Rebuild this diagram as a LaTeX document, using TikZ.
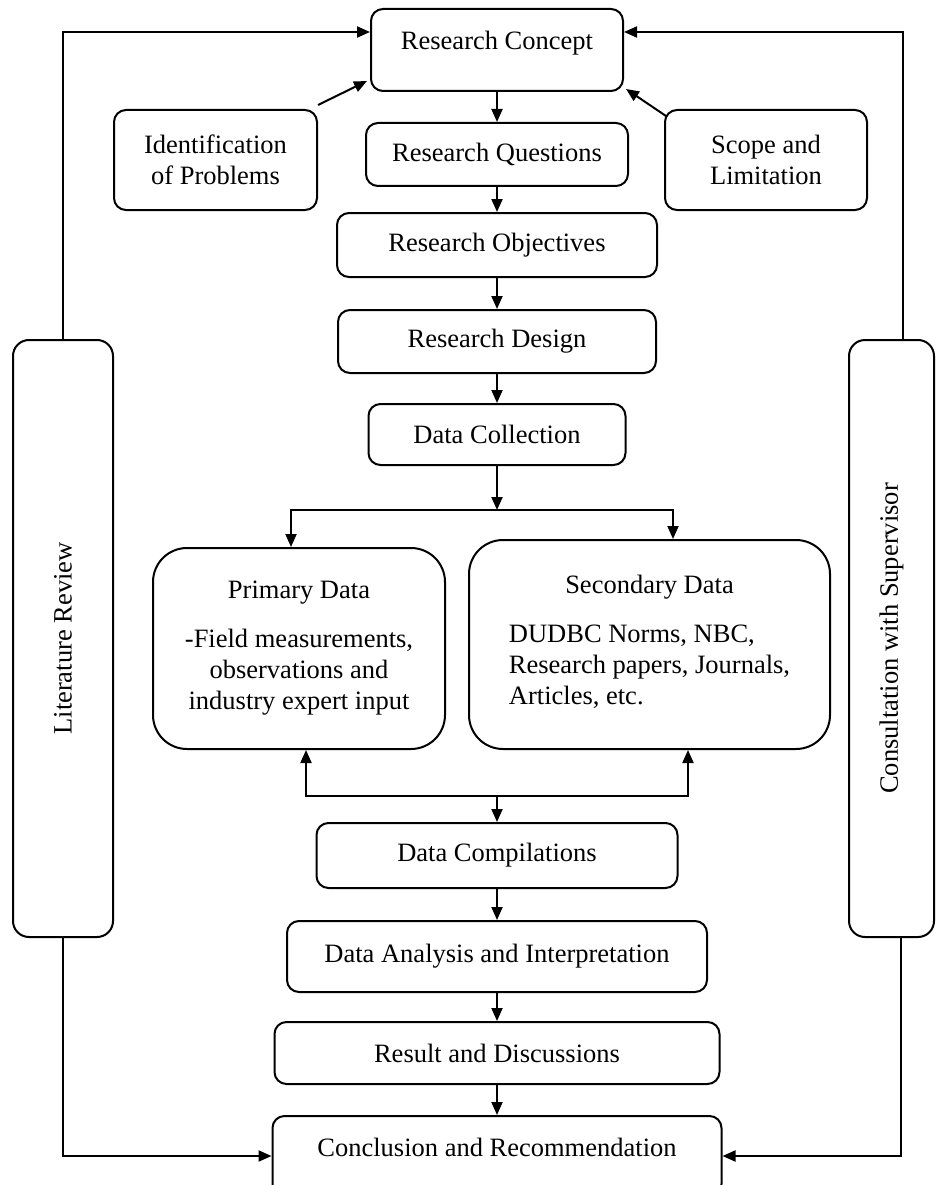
\documentclass[tikz,border=0pt]{standalone}
\usepackage{fontspec}
\setmainfont{Liberation Serif}
\usetikzlibrary{arrows.meta,positioning}
\tikzset{
  % Base styles
  chart base/.style={
    >={Triangle[length=13pt,width=11pt]},
    every node/.style={font=\fontsize{26.5}{31}\selectfont},
    node distance=30pt,
    x=1pt, y=-1pt,
  },
  % Flow boxes
  stage node/.style={rectangle, draw, line width=2pt, rounded corners=12pt, inner sep=4pt, fill=white},
  side node/.style={stage node, minimum width=203pt, minimum height=100pt, align=center},
  data node/.style={stage node, rounded corners=34pt, align=center},
  frame node/.style={stage node, rounded corners=16pt, minimum width=100pt, minimum height=597pt},
  % Connectors
  flow line/.style={line width=2pt},
}

\begin{document}
\begin{tikzpicture}[chart base]
\useasboundingbox (0,0) rectangle (936,1185);

% Main column (top part)
\node[stage node, minimum width=252pt, minimum height=82pt, text height=18pt, text depth=18pt] (concept) at (497,50) {Research Concept};
\node[stage node, below=30pt of concept, minimum width=262pt, minimum height=63pt] (questions) {Research Questions};
\node[stage node, below=25pt of questions, minimum width=320pt, minimum height=64pt] (objectives) {Research Objectives};
\node[stage node, below=31pt of objectives, minimum width=318pt, minimum height=63pt] (design) {Research Design};
\node[stage node, below=29pt of design, minimum width=257pt, minimum height=61pt] (collect) {Data Collection};

% Side inputs
\node[side node] (problems) at (215.5,160) {Identification\\of Problems};
\node[side node, minimum width=202pt] (scope) at (766,160) {Scope and\\Limitation};

% Data sources
\node[data node, minimum width=292pt, minimum height=201pt] (primary) at (299,648.5) {Primary Data\\[18pt]-Field measurements,\\observations and\\industry expert input};
\node[data node, minimum width=361pt, minimum height=209pt] (secondary) at (649.5,644.5) {Secondary Data\\[18pt]\begin{tabular}[t]{@{}l@{}}DUDBC Norms, NBC,\\Research papers, Journals,\\Articles, etc.\end{tabular}};

% Main column (bottom part)
\node[stage node, minimum width=361pt, minimum height=65pt] (compil) at (497,855.5) {Data Compilations};
\node[stage node, below=31pt of compil, minimum width=420pt, minimum height=71pt] (analysis) {Data Analysis and Interpretation};
\node[stage node, below=28pt of analysis, minimum width=445pt, minimum height=62pt] (result) {Result and Discussions};
\node[stage node, below=30pt of result, minimum width=449pt, minimum height=80pt, text height=18pt, text depth=18pt] (conclusion) {Conclusion and Recommendation};

% Side frames
\node[frame node] (litrev) at (63,638.5) {\rotatebox{90}{Literature Review}};
\node[frame node, minimum width=85pt] (consult) at (891.5,638.5) {\rotatebox{90}{Consultation with Supervisor}};

% Main flow
\draw[->, flow line] (concept) -- (questions);
\draw[->, flow line] (questions) -- (objectives);
\draw[->, flow line] (objectives) -- (design);
\draw[->, flow line] (design) -- (collect);

% Split to data sources
\coordinate[below=44pt of collect] (split);
\draw[->, flow line] (collect) -- (split);
\draw[->, flow line] (split) -| ([xshift=-8pt]primary.north);
\draw[->, flow line] (split) -| ([xshift=23.5pt]secondary.north);

% Merge into compilation
\coordinate[above=26pt of compil] (merge);
\draw[->, flow line] (merge) -| ([xshift=7pt]primary.south);
\draw[->, flow line] (merge) -| ([xshift=38.5pt]secondary.south);
\draw[->, flow line] (merge) -- (compil);

\draw[->, flow line] (compil) -- (analysis);
\draw[->, flow line] (analysis) -- (result);
\draw[->, flow line] (result) -- (conclusion);

% Side inputs
\draw[->, flow line] ([yshift=4pt]problems.north east) -- ([xshift=-3pt,yshift=11pt]concept.south west);
\draw[->, flow line] ([xshift=2pt,yshift=-7pt]scope.north west) -- ([xshift=2pt,yshift=3pt]concept.south east);

% Feedback loops
\draw[->, flow line] (litrev) |- ([yshift=18pt]concept.west);
\draw[->, flow line] (litrev) |- (conclusion);
\draw[->, flow line] ([xshift=11.5pt]consult.north) |- ([yshift=18pt]concept.east);
\draw[->, flow line] ([xshift=9.5pt]consult.south) |- (conclusion);
\end{tikzpicture}
\end{document}
